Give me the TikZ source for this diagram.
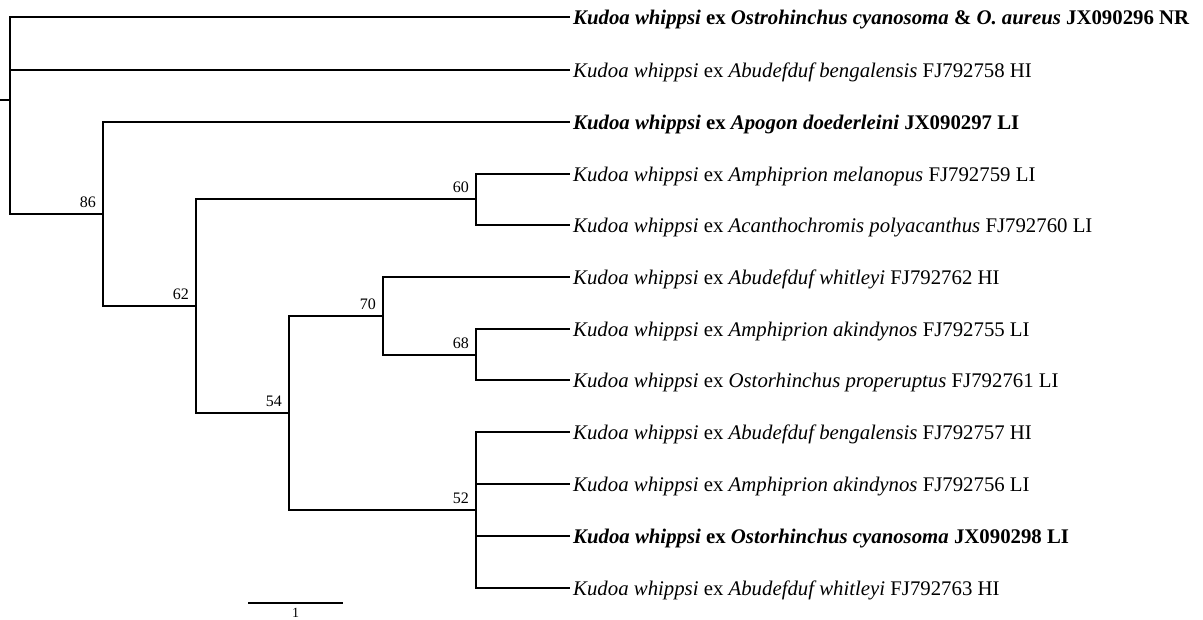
\documentclass[tikz,border=0pt]{standalone}
\usepackage{fontspec}
\setmainfont{Liberation Serif}
\usetikzlibrary{calc}
\begin{document}
\begin{tikzpicture}[x=1pt,y=-1pt,
  branch/.style={line width=1.8pt,line cap=rect},
  taxon/.style={anchor=base west,inner sep=0pt,font=\fontsize{20.8}{21}\selectfont},
  support/.style={anchor=south east,inner sep=0pt,font=\fontsize{16}{16}\selectfont},
  every node/.style={text=black}]
\useasboundingbox (0,0) rectangle (1203,619);

% internal nodes of the tree
\coordinate (stub) at (0,100);
\coordinate (root) at (10,100);
\coordinate (n86) at (103,214);
\coordinate (n62) at (196,306);
\coordinate (n60) at (476,199);
\coordinate (n54) at (289,413);
\coordinate (n70) at (383,316);
\coordinate (n68) at (476,355);
\coordinate (n52) at (476,510);

% tips
\foreach \i/\y in {1/17,2/70,3/122,4/174,5/225,6/277,7/329,8/380,9/432,10/484,11/536,12/588}
  \coordinate (t\i) at (569,\y);

% taxon labels
\tikzset{tip/.style={xshift=4pt,yshift=-7pt}}
\node[taxon] (l1) at ([tip]t1) {\textbf{\textit{Kudoa whippsi} ex \textit{Ostrohinchus cyanosoma} \& \textit{O. aureus} JX090296 NR}};
\node[taxon] (l2) at ([tip]t2) {\textit{Kudoa whippsi} ex \textit{Abudefduf bengalensis} FJ792758 HI};
\node[taxon] (l3) at ([tip]t3) {\textbf{\textit{Kudoa whippsi} ex \textit{Apogon doederleini} JX090297 LI}};
\node[taxon] (l4) at ([tip]t4) {\textit{Kudoa whippsi} ex \textit{Amphiprion melanopus} FJ792759 LI};
\node[taxon] (l5) at ([tip]t5) {\textit{Kudoa whippsi} ex \textit{Acanthochromis polyacanthus} FJ792760 LI};
\node[taxon] (l6) at ([tip]t6) {\textit{Kudoa whippsi} ex \textit{Abudefduf whitleyi} FJ792762 HI};
\node[taxon] (l7) at ([tip]t7) {\textit{Kudoa whippsi} ex \textit{Amphiprion akindynos} FJ792755 LI};
\node[taxon] (l8) at ([tip]t8) {\textit{Kudoa whippsi} ex \textit{Ostorhinchus properuptus} FJ792761 LI};
\node[taxon] (l9) at ([tip]t9) {\textit{Kudoa whippsi} ex \textit{Abudefduf bengalensis} FJ792757 HI};
\node[taxon] (l10) at ([tip]t10) {\textit{Kudoa whippsi} ex \textit{Amphiprion akindynos} FJ792756 LI};
\node[taxon] (l11) at ([tip]t11) {\textbf{\textit{Kudoa whippsi} ex \textit{Ostorhinchus cyanosoma} JX090298 LI}};
\node[taxon] (l12) at ([tip]t12) {\textit{Kudoa whippsi} ex \textit{Abudefduf whitleyi} FJ792763 HI};

% branches
\draw[branch] (stub) -- (root);
\draw[branch] (root) |- (t1);
\draw[branch] (root) |- (t2);
\draw[branch] (root) |- (n86);
\draw[branch] (n86) |- (t3);
\draw[branch] (n86) |- (n62);
\draw[branch] (n62) |- (n60);
\draw[branch] (n62) |- (n54);
\draw[branch] (n60) |- (t4);
\draw[branch] (n60) |- (t5);
\draw[branch] (n54) |- (n70);
\draw[branch] (n54) |- (n52);
\draw[branch] (n70) |- (t6);
\draw[branch] (n70) |- (n68);
\draw[branch] (n68) |- (t7);
\draw[branch] (n68) |- (t8);
\draw[branch] (n52) |- (t9);
\draw[branch] (n52) |- (t10);
\draw[branch] (n52) |- (t11);
\draw[branch] (n52) |- (t12);

% bootstrap support values
\tikzset{bs/.style={xshift=-7pt,yshift=6pt}}
\node[support] (b86) at ([bs]n86) {86};
\node[support] (b62) at ([bs]n62) {62};
\node[support] (b60) at ([bs]n60) {60};
\node[support] (b54) at ([bs]n54) {54};
\node[support] (b70) at ([bs]n70) {70};
\node[support] (b68) at ([bs]n68) {68};
\node[support] (b52) at ([bs]n52) {52};

% scale bar
\coordinate (sa) at (248,603);
\coordinate (sb) at (343,603);
\draw[branch,line cap=butt] (sa) -- (sb);
\node[anchor=north,inner sep=0pt,font=\fontsize{14}{14}\selectfont] (scl) at ([yshift=-5pt]$(sa)!0.5!(sb)$) {1};
\end{tikzpicture}
\end{document}
